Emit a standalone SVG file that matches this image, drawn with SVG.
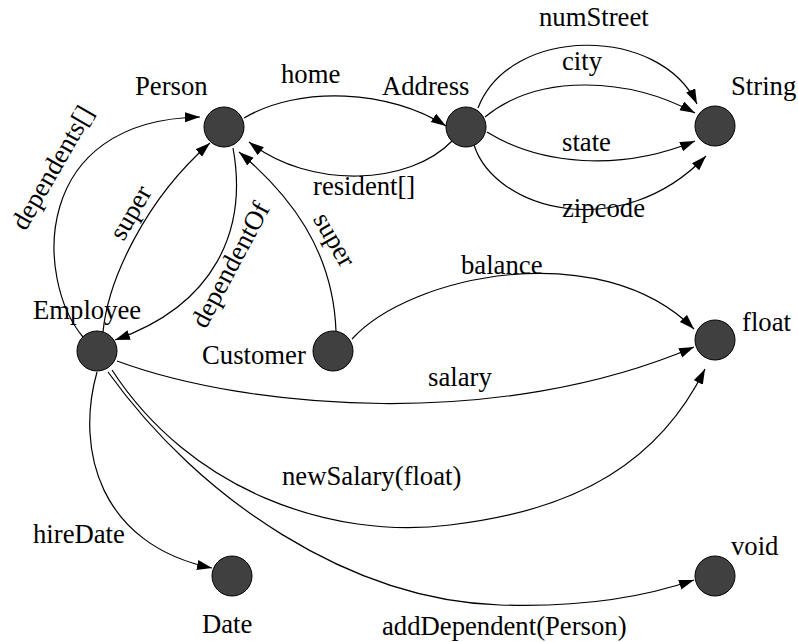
<svg xmlns="http://www.w3.org/2000/svg" width="798" height="642" viewBox="0 0 798 642">
<style>
.n{fill:#404040;stroke:#000;stroke-width:1}
.e{fill:none;stroke:#000;stroke-width:1.2;marker-end:url(#ah)}
text{font-family:'Liberation Serif','Times New Roman',Times,'DejaVu Serif',serif;font-size:26.7px;fill:#000}
.m{text-anchor:middle}
</style>
<defs>
<marker id="ah" markerUnits="userSpaceOnUse" markerWidth="16" markerHeight="11" refX="15" refY="5" orient="auto">
<path d="M0,0 L15,5 L0,10 Z" fill="#000"/>
</marker>
</defs>
<rect width="798" height="642" fill="#fff"/>
<g id="connectors">
<path class="e" d="M244,118 C300,85 390,90 446,126"/>
<path class="e" d="M452,141 C410,185 310,190 249,142"/>
<path class="e" d="M478,108 C510,25 660,25 697,104"/>
<path class="e" d="M485,117 C540,72 630,78 695,113"/>
<path class="e" d="M487,132 C540,165 620,172 695,141"/>
<path class="e" d="M474,145 C495,210 620,245 706,156"/>
<path class="e" d="M83,337 C35,280 30,120 200,117"/>
<path class="e" d="M103,332 C108,280 145,200 210,143"/>
<path class="e" d="M233,148 C248,230 215,305 115,340"/>
<path class="e" d="M336,331 C333,250 290,195 239,152"/>
<path class="e" d="M352,339 C410,275 600,235 694,329"/>
<path class="e" d="M117,361 C250,410 500,430 694,347"/>
<path class="e" d="M112,370 C190,490 330,540 450,525 C580,510 660,460 705,369"/>
<path class="e" d="M108,372 C200,500 350,600 500,605 C590,608 650,595 694,580"/>
<path class="e" d="M97,372 C75,450 100,545 212,568"/>
</g>
<g id="edge-labels">
<text x="281" y="83">home</text>
<text x="313" y="195">resident[]</text>
<text x="539" y="26">numStreet</text>
<text x="562" y="70">city</text>
<text x="562" y="151">state</text>
<text x="562" y="217">zipcode</text>
<text class="m" transform="translate(60,172) rotate(-60)">dependents[]</text>
<text class="m" transform="translate(138,217) rotate(-60)">super</text>
<text class="m" transform="translate(238,269) rotate(-62)">dependentOf</text>
<text class="m" transform="translate(327,244) rotate(60)">super</text>
<text x="461" y="274">balance</text>
<text x="428" y="386">salary</text>
<text x="282" y="485">newSalary(float)</text>
<text x="33" y="543">hireDate</text>
<text x="382" y="635">addDependent(Person)</text>
</g>
<g id="node-person"><circle class="n" cx="224" cy="127" r="20"/><text x="135" y="95">Person</text></g>
<g id="node-address"><circle class="n" cx="466" cy="127" r="20"/><text x="382" y="95">Address</text></g>
<g id="node-string"><circle class="n" cx="715" cy="126" r="20"/><text x="731" y="95">String</text></g>
<g id="node-employee"><circle class="n" cx="97" cy="351" r="20"/><text x="33" y="319">Employee</text></g>
<g id="node-customer"><circle class="n" cx="333" cy="351" r="20"/><text x="202" y="364">Customer</text></g>
<g id="node-float"><circle class="n" cx="715" cy="340" r="20"/><text x="742" y="331">float</text></g>
<g id="node-date"><circle class="n" cx="232" cy="576" r="20"/><text x="202" y="633">Date</text></g>
<g id="node-void"><circle class="n" cx="715" cy="576" r="20"/><text x="731" y="555">void</text></g>
</svg>
